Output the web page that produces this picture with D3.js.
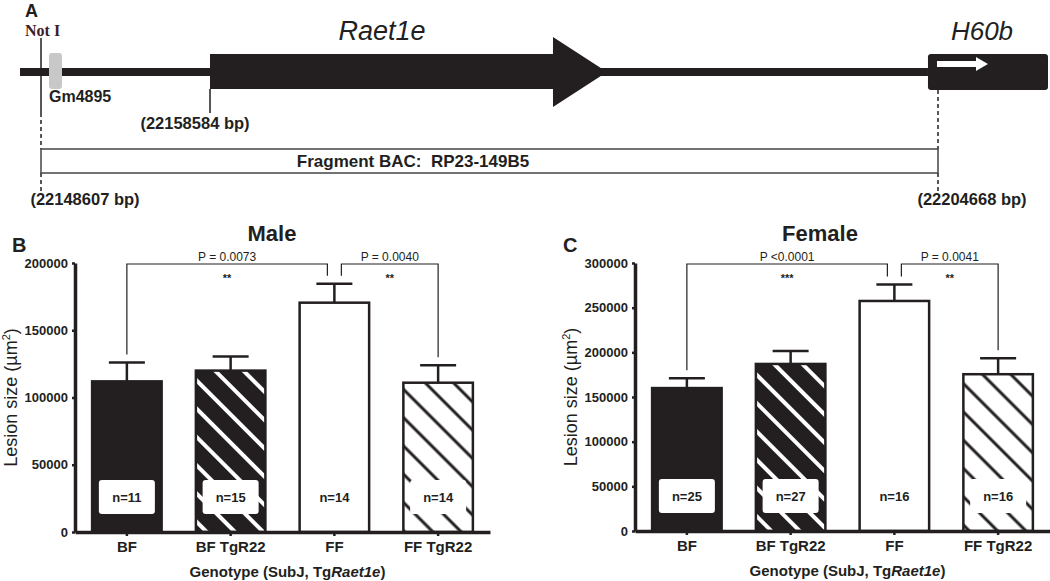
<!DOCTYPE html>
<html><head><meta charset="utf-8">
<script src="https://cdn.jsdelivr.net/npm/d3@7"></script>
<style>
body{margin:0;background:#fff}
svg{display:block}
text{font-family:"Liberation Sans",Arial,sans-serif;fill:#231f20}
</style>
</head><body>
<svg id="c" width="1050" height="581"></svg>
<script>
// ---------- Panel A data (genomic positions, bp) ----------
const bpAnchors = [22148607, 22158584, 22204668];
const bpLabels = ["(22148607 bp)", "(22158584 bp)", "(22204668 bp)"];
const lineStartBp = 22147368;
const featureNames = ["Gm4895", "Raet1e", "H60b"];
const featureStart = [22149079, 22158584, 22204033];
const featureEnd = [22149846, 22180296, 22211631];
const raetTipBp = 22183714;
const fragmentName = "Fragment BAC:  RP23-149B5";
const siteName = "Not I";

// ---------- Panels B / C data ----------
const genotypes = ["BF", "BF TgR22", "FF", "FF TgR22"];
const maleMeans = [112000, 120000, 170500, 111000];
const maleSEM = [14000, 10500, 14000, 13000];
const maleN = [11, 15, 14, 14];
const maleTicks = [0, 50000, 100000, 150000, 200000];
const maleP = ["P = 0.0073", "P = 0.0040"];
const maleStars = ["**", "**"];

const femaleMeans = [160000, 187000, 257500, 175500];
const femaleSEM = [11000, 14500, 18500, 18000];
const femaleN = [25, 27, 16, 16];
const femaleTicks = [0, 50000, 100000, 150000, 200000, 250000, 300000];
const femaleP = ["P <0.0001", "P = 0.0041"];
const femaleStars = ["***", "**"];

const comparisons = [[0, 2], [2, 3]];

const INK = "#231f20";
const svg = d3.select("#c");
const defs = svg.append("defs");

function hatch(id, bg, fg, w) {
  const p = defs.append("pattern").attr("id", id)
    .attr("patternUnits", "userSpaceOnUse")
    .attr("width", 20).attr("height", 20)
    .attr("patternTransform", "rotate(-45)");
  p.append("rect").attr("width", 20).attr("height", 20).attr("fill", bg);
  p.append("line").attr("x1", 10).attr("x2", 10).attr("y1", -2).attr("y2", 22)
    .attr("stroke", fg).attr("stroke-width", w);
}
hatch("hDark", INK, "#fff", 4);
hatch("hLight", "#fff", INK, 3);
const barFills = [INK, "url(#hDark)", "#fff", "url(#hLight)"];

// ---------- Panel A ----------
const gA = svg.append("g");
const gx = d3.scaleLinear().domain(bpAnchors).range([41, 210, 938]);

gA.append("text").attr("x", 25).attr("y", 17).attr("font-size", 18)
  .attr("font-weight", "bold").text("A");
gA.append("text").attr("x", 25).attr("y", 36).attr("font-size", 16)
  .attr("font-weight", "bold").style("font-family", "'Liberation Serif',serif")
  .style("fill", "#3d1c2a").text(siteName);

// main line
gA.append("rect").attr("x", gx(lineStartBp)).attr("y", 68)
  .attr("width", gx(featureStart[2]) - gx(lineStartBp)).attr("height", 8).attr("fill", INK);
// Gm4895
gA.append("rect").attr("x", gx(featureStart[0])).attr("y", 53)
  .attr("width", gx(featureEnd[0]) - gx(featureStart[0])).attr("height", 36)
  .attr("rx", 3).attr("fill", "#c8c8c8");
gA.append("text").attr("x", gx(featureStart[0])).attr("y", 102).attr("font-size", 16)
  .attr("font-weight", "bold").text(featureNames[0]);
// Raet1e arrow
const r0 = gx(featureStart[1]), r1 = gx(featureEnd[1]), rt = gx(raetTipBp);
gA.append("path").attr("fill", INK)
  .attr("d", `M${r0},54 L${r1},54 L${r1},37 L${rt},72 L${r1},107 L${r1},89 L${r0},89 Z`);
gA.append("text").attr("x", 382).attr("y", 40).attr("font-size", 27)
  .attr("font-style", "italic").attr("text-anchor", "middle").text(featureNames[1]);
// H60b box
const h0 = gx(featureStart[2]), h1 = gx(featureEnd[2]);
gA.append("rect").attr("x", h0).attr("y", 54).attr("width", h1 - h0).attr("height", 36)
  .attr("rx", 3).attr("fill", INK);
gA.append("line").attr("x1", h0 + 9).attr("x2", h0 + 50).attr("y1", 64).attr("y2", 64)
  .attr("stroke", "#fff").attr("stroke-width", 6);
gA.append("path").attr("fill", "#fff")
  .attr("d", `M${h0 + 48},57 L${h0 + 60},64 L${h0 + 48},71 Z`);
gA.append("text").attr("x", 982).attr("y", 40).attr("font-size", 26)
  .attr("font-style", "italic").attr("text-anchor", "middle").text(featureNames[2]);

// vertical markers
const xa = gx(bpAnchors[0]), xb = gx(bpAnchors[1]), xc = gx(bpAnchors[2]);
function vline(x, y1, y2, dashed) {
  gA.append("line").attr("x1", x).attr("x2", x).attr("y1", y1).attr("y2", y2)
    .attr("stroke", INK).attr("stroke-width", 1.5)
    .attr("stroke-dasharray", dashed ? "4,3" : null);
}
vline(xa, 38, 113, false);
vline(xa, 113, 149, true);
vline(xa, 173, 194, true);
vline(xb, 89, 113, false);
vline(xc, 90, 149, true);
vline(xc, 173, 195, true);

// fragment box
gA.append("rect").attr("x", xa).attr("y", 149).attr("width", xc - xa).attr("height", 24)
  .attr("fill", "none").attr("stroke", "#444").attr("stroke-width", 1.5);
gA.append("text").attr("x", 413).attr("y", 167).attr("font-size", 17)
  .style("white-space", "pre").attr("xml:space", "preserve")
  .attr("font-weight", "bold").attr("text-anchor", "middle").text(fragmentName);

// bp labels
const bpLabelPos = [[85, 205], [195, 129], [972, 205]];
bpLabels.forEach((t, i) => {
  gA.append("text").attr("x", bpLabelPos[i][0]).attr("y", bpLabelPos[i][1])
    .attr("font-size", 16.5).attr("font-weight", "bold").attr("text-anchor", "middle").text(t);
});

// ---------- Bar panels ----------
function panel(o) {
  const g = svg.append("g");
  const x = d3.scaleBand().domain(genotypes).range([o.x0, o.x1])
    .paddingInner(0.33).paddingOuter(0.165);
  const y = d3.scaleLinear().domain([0, o.max]).range([o.y0, o.y1]);
  const bw = x.bandwidth();
  const cx = i => x(genotypes[i]) + bw / 2;

  // bars
  g.selectAll(".bar").data(o.means).join("rect")
    .attr("x", (d, i) => x(genotypes[i])).attr("width", bw)
    .attr("y", d => y(d)).attr("height", d => y(0) - y(d))
    .attr("fill", (d, i) => barFills[i]).attr("stroke", INK).attr("stroke-width", 2.5);

  // error bars
  o.means.forEach((m, i) => {
    const top = y(m + o.sem[i]);
    g.append("line").attr("x1", cx(i)).attr("x2", cx(i)).attr("y1", y(m)).attr("y2", top)
      .attr("stroke", INK).attr("stroke-width", 2.5);
    g.append("line").attr("x1", cx(i) - 18).attr("x2", cx(i) + 18).attr("y1", top).attr("y2", top)
      .attr("stroke", INK).attr("stroke-width", 2.5);
  });

  // n boxes
  o.n.forEach((n, i) => {
    g.append("rect").attr("x", cx(i) - 28).attr("y", y(0) - 52).attr("width", 56).attr("height", 34)
      .attr("rx", 3).attr("fill", "#fff");
    g.append("text").attr("x", cx(i)).attr("y", y(0) - 30).attr("text-anchor", "middle")
      .attr("font-size", 13).attr("font-weight", "bold").text("n=" + n);
  });

  // axes
  const ya = g.append("g").attr("transform", `translate(${o.x0},0)`)
    .call(d3.axisLeft(y).tickValues(o.ticks).tickSize(3).tickSizeOuter(0).tickPadding(4)
      .tickFormat(d3.format("d")));
  ya.select(".domain").attr("stroke", INK).attr("stroke-width", 3.5);
  ya.selectAll(".tick line").attr("stroke", INK).attr("stroke-width", 2.5);
  ya.selectAll(".tick text").attr("font-size", 13).attr("font-weight", "bold")
    .style("font-family", "'Liberation Sans',Arial,sans-serif").attr("fill", INK);

  const xaG = g.append("g").attr("transform", `translate(0,${o.y0})`)
    .call(d3.axisBottom(x).tickSize(4).tickSizeOuter(0));
  xaG.select(".domain").attr("stroke", INK).attr("stroke-width", 3.5);
  xaG.selectAll(".tick line").attr("stroke", INK).attr("stroke-width", 2.5);
  xaG.selectAll(".tick text").attr("y", 20).attr("dy", 0).attr("font-size", 15)
    .attr("font-weight", "bold").style("font-family", "'Liberation Sans',Arial,sans-serif")
    .attr("fill", INK);

  // axis titles
  const xt = g.append("text").attr("x", (o.x0 + o.x1) / 2 + 5).attr("y", o.y0 + 45)
    .attr("text-anchor", "middle").attr("font-size", 15).attr("font-weight", "bold");
  xt.append("tspan").text("Genotype (SubJ, Tg");
  xt.append("tspan").attr("font-style", "italic").text("Raet1e");
  xt.append("tspan").text(")");

  const yt = g.append("text")
    .attr("transform", `translate(${o.x0 - 58},${(o.y0 + o.y1) / 2}) rotate(-90)`)
    .attr("text-anchor", "middle").attr("font-size", 18);
  yt.append("tspan").text("Lesion size (µm");
  yt.append("tspan").attr("font-size", 11).attr("dy", -7).text("2");
  yt.append("tspan").attr("dy", 7).text(")");

  // title & letter
  g.append("text").attr("x", o.titleX).attr("y", 241).attr("text-anchor", "middle")
    .attr("font-size", 22).attr("font-weight", "bold").text(o.title);
  g.append("text").attr("x", o.letterX).attr("y", 252)
    .attr("font-size", 20).attr("font-weight", "bold").text(o.letter);

  // significance brackets
  const by = y(o.max) + 1;
  comparisons.forEach(([a, b], k) => {
    const xl = cx(a) + (k === 1 ? 7 : 0);
    const xr = cx(b) - (k === 0 ? 7 : 0);
    const yl = y(o.means[a] + o.sem[a]) - 8;
    const yr = y(o.means[b] + o.sem[b]) - 8;
    g.append("path").attr("fill", "none").attr("stroke", INK).attr("stroke-width", 1.2)
      .attr("d", `M${xl},${yl} L${xl},${by} L${xr},${by} L${xr},${yr}`);
    g.append("text").attr("x", (xl + xr) / 2).attr("y", by - 3).attr("text-anchor", "middle")
      .attr("font-size", 12).text(o.p[k]);
    g.append("text").attr("x", (xl + xr) / 2).attr("y", by + 18).attr("text-anchor", "middle")
      .attr("font-size", 11).attr("font-weight", "bold").text(o.stars[k]);
  });
}

panel({x0: 75, x1: 490, y0: 532, y1: 263, max: 200000, ticks: maleTicks,
  means: maleMeans, sem: maleSEM, n: maleN, p: maleP, stars: maleStars,
  title: "Male", titleX: 272, letter: "B", letterX: 12});
panel({x0: 635, x1: 1050, y0: 531, y1: 263, max: 300000, ticks: femaleTicks,
  means: femaleMeans, sem: femaleSEM, n: femaleN, p: femaleP, stars: femaleStars,
  title: "Female", titleX: 820, letter: "C", letterX: 563});
</script>
</body></html>
